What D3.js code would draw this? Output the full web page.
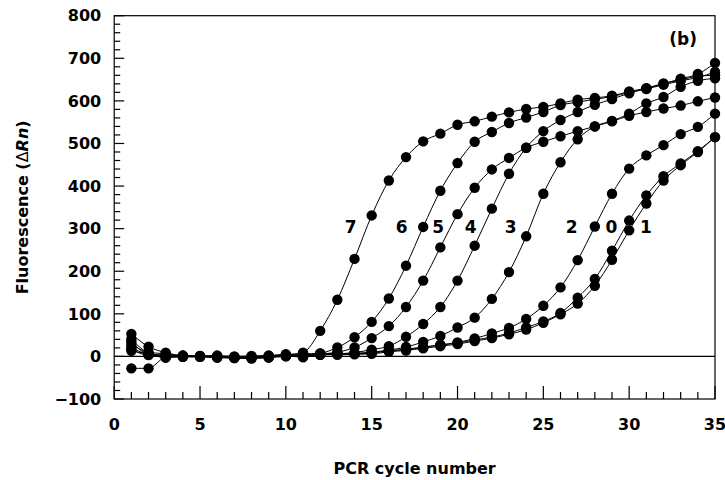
<!DOCTYPE html>
<html>
<head>
<meta charset="utf-8">
<script src="https://cdn.jsdelivr.net/npm/d3@7"></script>
<style>
  html, body { margin: 0; padding: 0; background: #fff; }
  svg { display: block; }
  text { font-family: "DejaVu Sans", "Liberation Sans", Arial, sans-serif; font-weight: bold; fill: #000; }
</style>
</head>
<body>
<svg id="chart" width="725" height="480"></svg>
<script>
// ---------- DATA ----------
const cycles = [1,2,3,4,5,6,7,8,9,10,11,12,13,14,15,16,17,18,19,20,21,22,23,24,25,26,27,28,29,30,31,32,33,34,35];

const series7 = [35,5,2,1,0,-2,-3,-2,0,3,9,60,133,229,331,413,468,505,523,544,552,563,573,581,586,594,603,607,612,622,630,641,649,658,660];
const series6 = [22,4,0,0,0,-1,-2,-3,-1,2,3,7,21,45,81,136,213,304,389,454,504,527,548,561,574,590,597,604,610,620,628,638,647,655,668];
const series5 = [29,7,-3,0,1,0,-4,-5,-2,1,0,5,10,21,43,71,116,178,256,334,396,439,466,490,504,517,529,540,552,565,574,582,589,599,608];
const series4 = [17,3,4,2,0,1,-2,-1,1,4,2,4,6,9,16,24,46,76,116,178,260,347,429,490,529,555,574,591,604,618,629,640,652,663,689];
const series3 = [41,10,6,0,-1,-3,-4,-4,-3,0,1,5,6,7,10,15,22,34,48,68,91,135,198,282,382,456,510,540,553,570,594,609,633,647,653];
const series2 = [53,23,9,2,1,0,-1,0,1,3,4,5,6,7,9,13,17,22,27,33,42,54,67,88,119,162,226,305,382,441,472,496,522,539,570];
const series0 = [13,6,2,-1,0,2,0,1,2,5,6,7,7,6,8,13,16,21,27,31,39,45,55,68,82,102,138,182,248,319,378,423,453,482,515];
const series1 = [-28,-28,-2,-1,-1,-2,-3,-2,-1,1,-2,4,4,5,6,11,14,19,24,29,36,43,52,63,79,99,124,166,227,296,359,413,449,480,515];

const seriesNames = ["7","6","5","4","3","2","0","1"];
const seriesValues = [series7, series6, series5, series4, series3, series2, series0, series1];

// curve-label anchor (cycle, fluorescence)
const labelCycle = [13.77, 16.74, 18.88, 20.76, 23.09, 26.65, 28.97, 30.97];
const labelValue = [303, 303, 303, 303, 303, 303, 303, 303];

const xTickLabels = [0,5,10,15,20,25,30,35];
const yTickLabels = [-100,0,100,200,300,400,500,600,700,800];

// ---------- LAYOUT ----------
const svg = d3.select("#chart");
const L = 114.2, R = 715, T = 15.7, B = 399;

const x = d3.scaleLinear().domain([0, 35]).range([L, R]);
const y = d3.scaleLinear().domain([-100, 800]).range([B, T]);

// frame
svg.append("rect")
  .attr("x", L).attr("y", T).attr("width", R - L).attr("height", B - T)
  .attr("fill", "none").attr("stroke", "#000").attr("stroke-width", 1.2);

// zero line
svg.append("line")
  .attr("x1", L).attr("x2", R).attr("y1", y(0)).attr("y2", y(0))
  .attr("stroke", "#000").attr("stroke-width", 1.2);

// y ticks (inward)
const yMinor = d3.range(-100, 801, 20);
svg.append("g").selectAll("line").data(yMinor).join("line")
  .attr("x1", L).attr("x2", d => L + (d % 100 === 0 ? 10 : 6))
  .attr("y1", d => y(d)).attr("y2", d => y(d))
  .attr("stroke", "#000").attr("stroke-width", 1.2);

// x ticks (inward, upward)
const xMinor = d3.range(0, 36, 1);
svg.append("g").selectAll("line").data(xMinor).join("line")
  .attr("x1", d => x(d)).attr("x2", d => x(d))
  .attr("y1", B).attr("y2", d => B - (d % 5 === 0 ? 13 : 7))
  .attr("stroke", "#000").attr("stroke-width", 1.2);

// y tick labels
svg.append("g").selectAll("text").data(yTickLabels).join("text")
  .attr("x", L - 13).attr("y", d => y(d)).attr("dy", "0.36em")
  .attr("text-anchor", "end").attr("font-size", 16)
  .text(d => d < 0 ? "\u2212" + Math.abs(d) : d);

// x tick labels
svg.append("g").selectAll("text").data(xTickLabels).join("text")
  .attr("x", d => x(d)).attr("y", 430)
  .attr("text-anchor", "middle").attr("font-size", 16)
  .text(d => d);

// axis titles
svg.append("text")
  .attr("x", (L + R) / 2).attr("y", 474)
  .attr("text-anchor", "middle").attr("font-size", 16)
  .text("PCR cycle number");

const yt = svg.append("text")
  .attr("transform", `translate(28,${(T + B) / 2}) rotate(-90)`)
  .attr("text-anchor", "middle").attr("font-size", 16);
yt.append("tspan").text("Fluorescence (");
yt.append("tspan").attr("font-weight", "normal").text("\u0394");
yt.append("tspan").attr("font-style", "italic").text("Rn");
yt.append("tspan").text(")");

// panel tag
svg.append("text")
  .attr("x", 697).attr("y", 45).attr("text-anchor", "end").attr("font-size", 17)
  .text("(b)");

// ---------- SERIES ----------
const line = d3.line()
  .x((d, i) => x(cycles[i]))
  .y(d => y(d))
  .curve(d3.curveMonotoneX);

const g = svg.append("g");
seriesValues.forEach((vals) => {
  g.append("path")
    .attr("d", line(vals))
    .attr("fill", "none").attr("stroke", "#000").attr("stroke-width", 1);
});
seriesValues.forEach((vals) => {
  g.append("g").selectAll("circle").data(vals).join("circle")
    .attr("cx", (d, i) => x(cycles[i]))
    .attr("cy", d => y(d))
    .attr("r", 5.2)
    .attr("fill", "#000");
});

// curve labels
svg.append("g").selectAll("text").data(seriesNames).join("text")
  .attr("x", (d, i) => x(labelCycle[i]))
  .attr("y", (d, i) => y(labelValue[i]))
  .attr("dy", "0.36em")
  .attr("text-anchor", "middle").attr("font-size", 17)
  .text(d => d);
</script>
</body>
</html>
